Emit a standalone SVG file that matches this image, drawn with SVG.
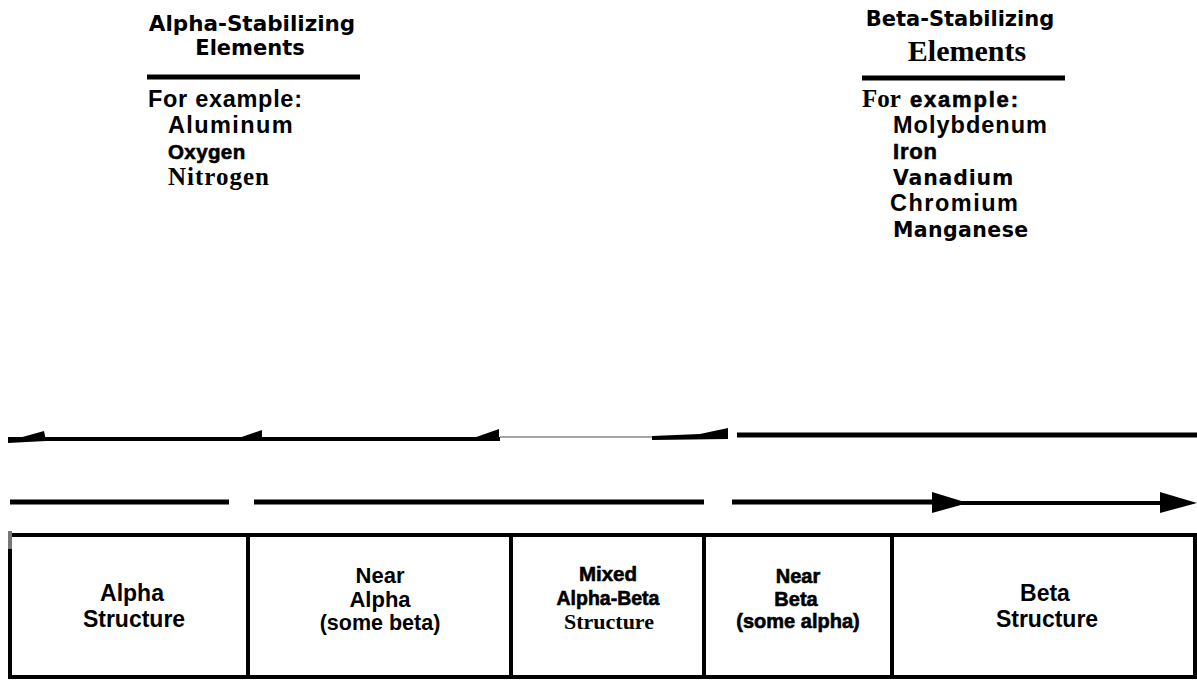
<svg xmlns="http://www.w3.org/2000/svg" width="1197" height="680" viewBox="0 0 1197 680">
<style>
.s{font-family:"Liberation Sans",Arial,sans-serif;font-weight:bold;fill:#000}
.d{font-family:"DejaVu Sans",Verdana,sans-serif;font-weight:bold;fill:#000}
.r{font-family:"Liberation Serif","Times New Roman",serif;font-weight:bold;fill:#000}
.k{stroke:#000;stroke-width:0.6}
.ln{stroke:#000;stroke-width:5;fill:none}
.cell{fill:#fff;stroke:#000;stroke-width:4}
.dv{stroke:#000;stroke-width:4}
</style>
<rect width="1197" height="680" fill="#fff"/>
<g id="alpha-elements">
<text class="d" font-size="21.5" x="252" y="31" text-anchor="middle">Alpha-Stabilizing</text>
<text class="d" font-size="21" x="250" y="55" text-anchor="middle">Elements</text>
<line class="ln" x1="147" y1="77" x2="360" y2="77"/>
<text class="s" font-size="23.5" letter-spacing="0.7" x="148" y="107">For example:</text>
<text class="s" font-size="23.5" letter-spacing="1.4" x="168" y="133">Aluminum</text>
<text class="s k" font-size="20.5" letter-spacing="0.4" x="168" y="159">Oxygen</text>
<text class="r" font-size="25" letter-spacing="1" x="168" y="185">Nitrogen</text>
</g>
<g id="beta-elements">
<text class="d" font-size="21" x="960" y="26" text-anchor="middle">Beta-Stabilizing</text>
<text class="r" font-size="30" x="967" y="61" text-anchor="middle">Elements</text>
<line class="ln" x1="862" y1="78" x2="1065" y2="78"/>
<text class="r" font-size="25" x="862" y="107">For</text>
<text class="s k" font-size="22" letter-spacing="1.8" x="910" y="107">example:</text>
<text class="s" font-size="23.5" letter-spacing="1" x="893" y="133">Molybdenum</text>
<text class="s k" font-size="22" letter-spacing="0.8" x="893" y="159">Iron</text>
<text class="d" font-size="20.5" letter-spacing="0.8" x="893" y="185">Vanadium</text>
<text class="s" font-size="23.5" letter-spacing="1.5" x="890" y="211">Chromium</text>
<text class="d" font-size="20.5" letter-spacing="0.4" x="893" y="237">Manganese</text>
</g>
<g id="connectors">
<line x1="8" y1="439" x2="500" y2="439" stroke="#000" stroke-width="4"/>
<polygon points="8,441 44,431 46,441 8,443" fill="#000"/>
<polygon points="230,441 262,430 262,441" fill="#000"/>
<polygon points="465,441 499,429 499,441" fill="#000"/>
<line x1="500" y1="437" x2="652" y2="437" stroke="#888" stroke-width="1.5"/>
<polygon points="652,436 700,434 728,428 728,439 652,440" fill="#000"/>
<line class="ln" x1="737" y1="435" x2="1197" y2="435"/>
<line class="ln" x1="10" y1="502" x2="229" y2="502"/>
<line class="ln" x1="254" y1="502" x2="704" y2="502"/>
<line class="ln" x1="732" y1="502" x2="935" y2="502"/>
<line x1="935" y1="503" x2="1165" y2="503" stroke="#000" stroke-width="4"/>
<polygon points="932,492 968,503 932,513" fill="#000"/>
<polygon points="1160,492 1197,503 1160,513" fill="#000"/>
</g>
<g id="box">
<rect class="cell" x="10" y="535" width="1185" height="142"/>
<rect x="8" y="531" width="4" height="18" fill="#777"/>
<line class="dv" x1="248" y1="535" x2="248" y2="677"/>
<line class="dv" x1="511" y1="535" x2="511" y2="677"/>
<line class="dv" x1="704" y1="535" x2="704" y2="677"/>
<line class="dv" x1="892" y1="535" x2="892" y2="677"/>
</g>
<g id="alpha-structure">
<text class="s" font-size="23" x="132" y="601" text-anchor="middle">Alpha</text>
<text class="s" font-size="23" x="134" y="627" text-anchor="middle">Structure</text>
</g>
<g id="near-alpha">
<text class="s" font-size="22" x="380" y="583" text-anchor="middle">Near</text>
<text class="s" font-size="22" x="380" y="607" text-anchor="middle">Alpha</text>
<text class="s" font-size="21.5" x="380" y="630" text-anchor="middle">(some beta)</text>
</g>
<g id="mixed">
<text class="s k" font-size="20.5" x="608" y="581" text-anchor="middle">Mixed</text>
<text class="s k" font-size="19.5" x="608" y="605" text-anchor="middle">Alpha-Beta</text>
<text class="r" font-size="22" x="609" y="629" text-anchor="middle">Structure</text>
</g>
<g id="near-beta">
<text class="s k" font-size="20" x="798" y="583" text-anchor="middle">Near</text>
<text class="s k" font-size="20" x="796" y="606" text-anchor="middle">Beta</text>
<text class="s k" font-size="20" x="798" y="628" text-anchor="middle">(some alpha)</text>
</g>
<g id="beta-structure">
<text class="s" font-size="23" x="1045" y="601" text-anchor="middle">Beta</text>
<text class="s" font-size="23" x="1047" y="627" text-anchor="middle">Structure</text>
</g>
</svg>
